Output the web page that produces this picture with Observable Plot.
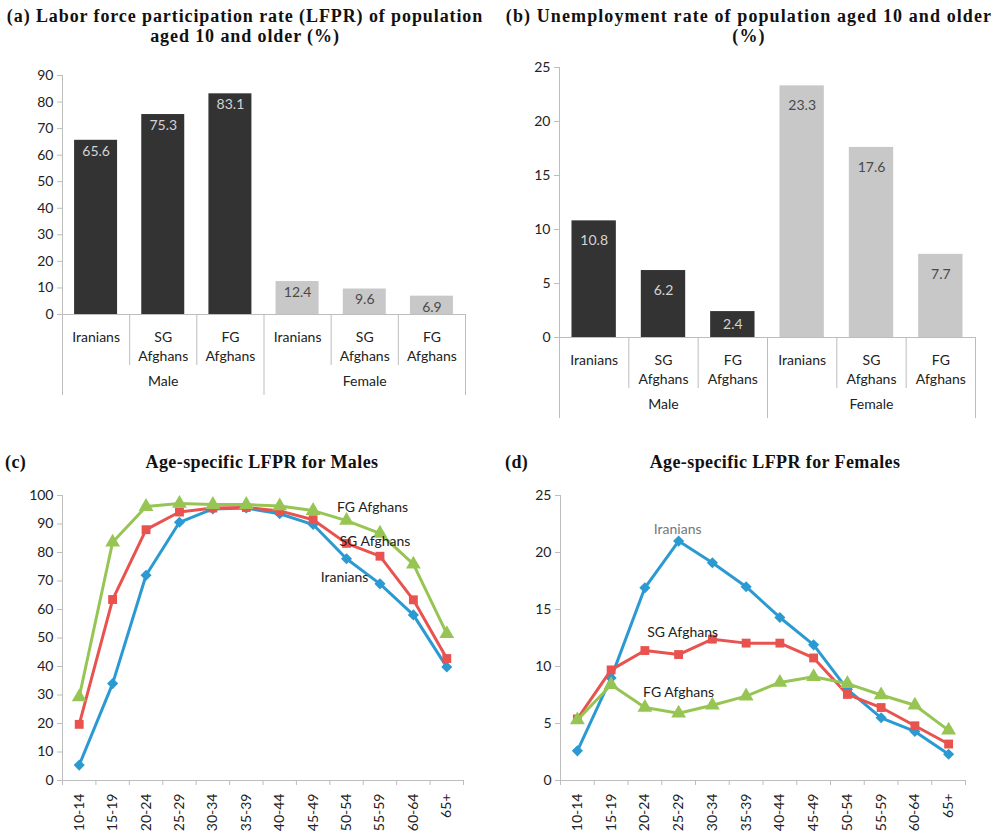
<!DOCTYPE html>
<html><head><meta charset="utf-8">
<script src="https://cdn.jsdelivr.net/npm/d3@7"></script>
<script src="https://cdn.jsdelivr.net/npm/@observablehq/plot@0.6"></script>
<style>
body{margin:0;background:#fff;}
#root{position:relative;width:998px;height:836px;overflow:hidden;background:#fff;}
.title{position:absolute;z-index:2;font-family:"Liberation Serif","Times New Roman",serif;font-weight:bold;color:#111;text-align:center;white-space:nowrap;}
.panel{position:absolute;z-index:1;}
</style></head><body><div id="root"></div>
<script>
// ---- data ----
const groups = ["Male", "Female"];
const origins = ["Iranians", "SG Afghans", "FG Afghans"];
const lfprMale = [65.6, 75.3, 83.1];
const lfprFemale = [12.4, 9.6, 6.9];
const unempMale = [10.8, 6.2, 2.4];
const unempFemale = [23.3, 17.6, 7.7];

const ageGroups = ["10-14","15-19","20-24","25-29","30-34","35-39","40-44","45-49","50-54","55-59","60-64","65+"];
const maleIranians = [5.4, 34, 72, 90.6, 95.3, 95.6, 93.6, 89.8, 77.8, 69, 58.1, 39.8];
const maleSG =       [19.7, 63.5, 88, 94.2, 95.6, 95.8, 94.6, 91.5, 83.2, 78.7, 63.4, 42.8];
const maleFG =       [29.3, 83.6, 96.1, 97.2, 96.8, 96.8, 96.3, 94.7, 91.2, 86.7, 75.9, 51.5];
const femaleIranians = [2.6, 9.0, 16.9, 21.0, 19.1, 17.0, 14.3, 11.9, 8.0, 5.5, 4.3, 2.3];
const femaleSG =       [5.4, 9.7, 11.4, 11.05, 12.4, 12.05, 12.05, 10.75, 7.55, 6.4, 4.8, 3.2];
const femaleFG =       [5.3, 8.4, 6.4, 5.9, 6.6, 7.4, 8.6, 9.1, 8.5, 7.5, 6.6, 4.4];

const seriesNames = ["Iranians", "SG Afghans", "FG Afghans"];
const seriesColors = ["#2b9ad3", "#e8524f", "#97c554"];
const seriesSymbols = ["diamond2", "square", "triangle"];

const AXIS = "#bdbdbd";
const FONT = "Lato, 'Open Sans', sans-serif";
const root = document.getElementById("root");

function addTitle(html, left, top, width, size, lh, align, ls) {
  const d = document.createElement("div");
  d.className = "title";
  d.style.left = left + "px"; d.style.top = top + "px"; d.style.width = width + "px";
  d.style.fontSize = size + "px"; d.style.lineHeight = lh + "px";
  if (align) d.style.textAlign = align;
  if (ls) d.style.letterSpacing = ls + "px";
  d.innerHTML = html;
  root.appendChild(d);
}
function addPanel(svg, left, top) {
  const d = document.createElement("div");
  d.className = "panel";
  d.style.left = left + "px"; d.style.top = top + "px";
  d.appendChild(svg);
  root.appendChild(d);
}
function yAxisMark(ticks) {
  if (typeof Plot.axisY === "function") {
    return Plot.axisY(ticks, {tickSize: 5, tickPadding: 4, stroke: AXIS, fill: "#222", label: null, fontSize: 14});
  }
  return null;
}

function barPanel(o) {
  const rows = [];
  groups.forEach((g, gi) => origins.forEach((or, oi) => rows.push({
    group: g, origin: or, i: gi * 3 + oi, value: (gi === 0 ? o.male : o.female)[oi]
  })));
  const ticks = d3.range(0, o.yMax + 0.001, o.yStep);
  const male = rows.filter(d => d.group === "Male");
  const female = rows.filter(d => d.group === "Female");
  const inner = [1, 2, 4, 5], outer = [0, 3, 6];
  const lab = d => d.value.toFixed(1);
  const big = d => d.value >= o.smallThreshold, small = d => d.value < o.smallThreshold;
  return Plot.plot({
    width: o.width, height: o.height,
    marginTop: o.mt, marginBottom: o.mb, marginLeft: o.ml, marginRight: o.mr,
    style: {fontFamily: FONT, fontSize: "14px", color: "#222", background: "transparent"},
    x: {domain: [0, 6], axis: null},
    y: {domain: [0, o.yMax], ticks, tickSize: 5, label: null},
    marks: [
      yAxisMark(ticks),
      Plot.rectY(male, {x1: d => d.i + 0.18, x2: d => d.i + 0.82, y1: 0, y2: "value", fill: "#333333"}),
      Plot.rectY(female, {x1: d => d.i + 0.18, x2: d => d.i + 0.82, y1: 0, y2: "value", fill: "#c8c8c8"}),
      Plot.ruleY([0], {x1: 0, x2: 6, stroke: AXIS}),
      Plot.ruleX([0], {y1: 0, y2: o.yMax, stroke: AXIS}),
      Plot.ruleX(inner, {x: d => d, y1: 0, y2: 0, insetBottom: -51, stroke: AXIS}),
      Plot.ruleX(outer, {x: d => d, y1: 0, y2: 0, insetBottom: -81, stroke: AXIS}),
      Plot.text(male.filter(big), {x: d => d.i + 0.5, y: "value", text: lab, dy: o.labelDy, fill: "#d4d4d4", fontSize: 14}),
      Plot.text(female.filter(big), {x: d => d.i + 0.5, y: "value", text: lab, dy: o.labelDy, fill: "#4a4a4a", fontSize: 14}),
      Plot.text(male.filter(small), {x: d => d.i + 0.5, y: d => d.value / 2, text: lab, fill: "#d4d4d4", fontSize: 14}),
      Plot.text(rows, {x: d => d.i + 0.5, y: 0, text: d => d.origin.replace(" ", "\n"), dy: 14, lineAnchor: "top", lineHeight: 1.36, fill: "#222", fontSize: 14}),
      Plot.text(groups, {x: (d, i) => i * 3 + 1.5, y: 0, text: d => d, dy: 62, lineAnchor: "top", fill: "#222", fontSize: 14})
    ].filter(Boolean)
  });
}

function linePanel(o) {
  const ticks = d3.range(0, o.yMax + 0.001, o.yStep);
  const marks = [
    yAxisMark(ticks),
    Plot.ruleY([0], {x1: 0, x2: 12, stroke: AXIS}),
    Plot.ruleX([0], {y1: 0, y2: o.yMax, stroke: AXIS}),
    Plot.ruleX(d3.range(13), {x: d => d, y1: 0, y2: 0, insetBottom: -5, stroke: AXIS}),
    Plot.text(ageGroups, {x: (d, i) => i + 0.5, y: 0, text: d => d, rotate: -90, textAnchor: "end", lineAnchor: "middle", dy: 13, fill: "#222", fontSize: 14})
  ];
  const all = [];
  o.series.forEach((vals, s) => {
    const pts = vals.map((v, i) => ({i, age: ageGroups[i], value: v, series: seriesNames[s]}));
    all.push(pts);
    marks.push(Plot.line(pts, {x: d => d.i + 0.5, y: "value", stroke: seriesColors[s], strokeWidth: 3}));
    marks.push(Plot.dot(pts, {x: d => d.i + 0.5, y: "value", symbol: seriesSymbols[s], fill: seriesColors[s], r: s === 2 ? 5.5 : 5}));
  });
  o.labels.forEach(l => {
    const p = all[l.s].filter(d => d.age === l.age);
    marks.push(Plot.text(p, {x: d => d.i + 0.5, y: "value", text: () => seriesNames[l.s], dx: l.dx, dy: l.dy, fill: l.fill || "#222", fontSize: 14}));
  });
  return Plot.plot({
    width: o.width, height: o.height,
    marginTop: o.mt, marginBottom: o.mb, marginLeft: o.ml, marginRight: o.mr,
    style: {fontFamily: FONT, fontSize: "14px", color: "#222", background: "transparent"},
    x: {domain: [0, 12], axis: null},
    y: {domain: [0, o.yMax], ticks, tickSize: 5, label: null},
    marks: marks.filter(Boolean)
  });
}

// ---- panels ----
addPanel(barPanel({male: lfprMale, female: lfprFemale, yMax: 90, yStep: 10,
  width: 498, height: 360, mt: 15, mb: 106, ml: 62, mr: 33, labelDy: 11, smallThreshold: 0}), 0, 60);
addPanel(barPanel({male: unempMale, female: unempFemale, yMax: 25, yStep: 5,
  width: 498, height: 380, mt: 17, mb: 93, ml: 59, mr: 23, labelDy: 20, smallThreshold: 4}), 500, 50);
addPanel(linePanel({series: [maleIranians, maleSG, maleFG], yMax: 100, yStep: 10,
  width: 498, height: 366, mt: 25, mb: 56, ml: 62, mr: 35,
  labels: [{s: 2, age: "50-54", dx: 26, dy: -13}, {s: 1, age: "55-59", dx: -5, dy: -15}, {s: 0, age: "50-54", dx: -2, dy: 19}]}), 0, 470);
addPanel(linePanel({series: [femaleIranians, femaleSG, femaleFG], yMax: 25, yStep: 5,
  width: 498, height: 366, mt: 25, mb: 56, ml: 60, mr: 33,
  labels: [{s: 0, age: "25-29", dx: -1, dy: -12, fill: "#777"}, {s: 1, age: "25-29", dx: 4, dy: -22}, {s: 2, age: "25-29", dx: 0, dy: -21}]}), 500, 470);

// ---- titles ----
addTitle("(a) Labor force participation rate (LFPR) of population<br>aged 10 and older (%)", 0, 6, 490, 18, 20, null, 0.9);
addTitle("(b) Unemployment rate of population aged 10 and older<br>(%)", 500, 6, 498, 18, 20, null, 1.1);
addTitle("(c)", 5, 452, 40, 18, 20, "left", 0.4);
addTitle("Age-specific LFPR for Males", 132, 452, 260, 18, 20, null, 0.4);
addTitle("(d)", 505, 452, 40, 18, 20, "left", 0.4);
addTitle("Age-specific LFPR for Females", 645, 452, 260, 18, 20, null, 0.4);
</script></body></html>
